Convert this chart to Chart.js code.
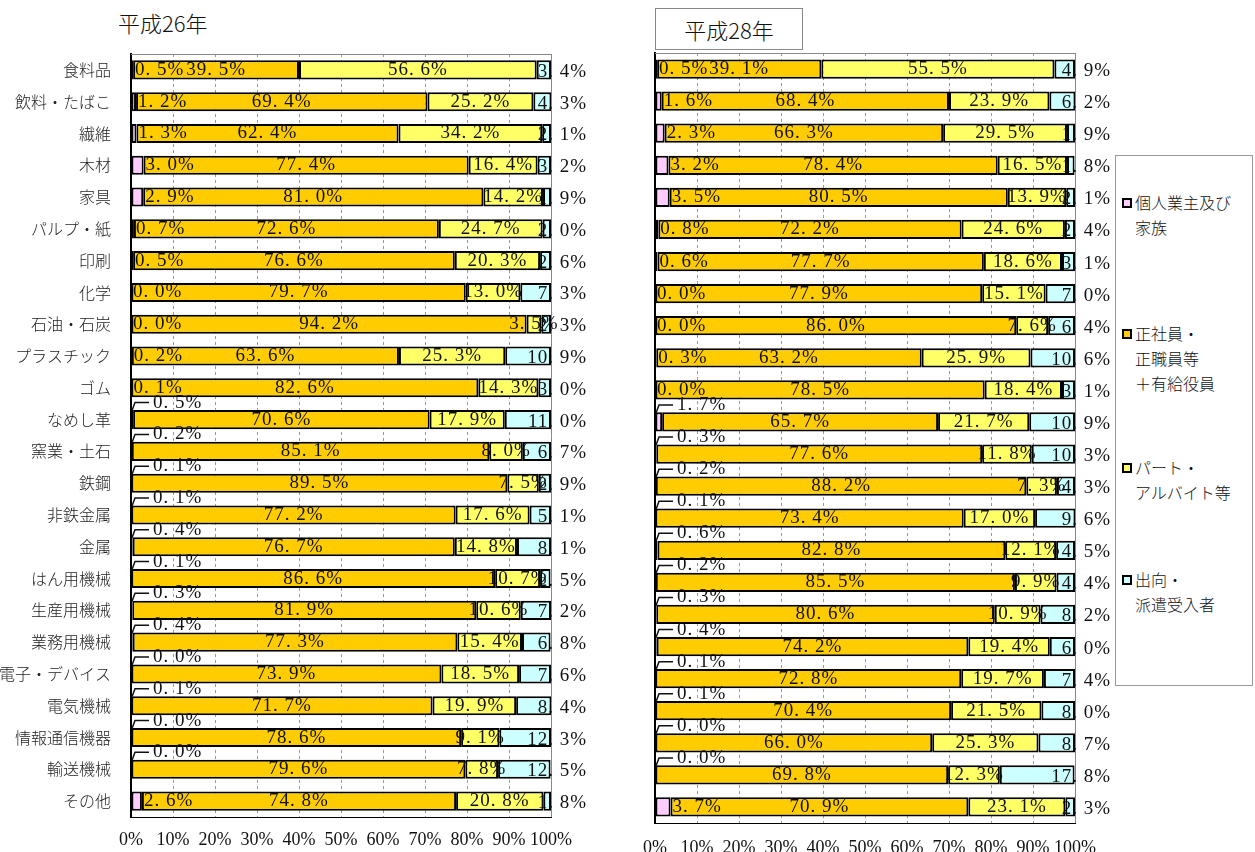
<!DOCTYPE html>
<html>
<head>
<meta charset="utf-8">
<script src="https://cdn.jsdelivr.net/npm/chart.js@4/dist/chart.umd.min.js"></script>
<style>
  body { margin: 0; background: #fff; width: 1255px; height: 852px; overflow: hidden; position: relative; font-family: "Noto Sans CJK JP", sans-serif; }
  #c1 { position: absolute; left: 0; top: 0; }
  #c2 { position: absolute; left: 600px; top: 0; }
  .title { position: absolute; font-size: 22px; font-weight: 300; color: #111; }
  #t2 { left: 655px; top: 8px; width: 146px; height: 40px; border: 1px solid #888; line-height: 40px; text-align: center; }
  #legend { position: absolute; left: 1115px; top: 155px; width: 136px; height: 529px; border: 1px solid #999; background: #fff; }
  .item { position: absolute; left: 6px; font-size: 16px; font-weight: 300; line-height: 25px; color: #111; }
  .item i { position: absolute; left: 0; top: 8px; width: 6px; height: 6px; border: 2px solid #000; }
  .item span { display: block; padding-left: 13px; white-space: pre; }
</style>
</head>
<body>
<div class="title" style="left:118px;top:6px;">平成26年</div>
<div class="title" id="t2">平成28年</div>
<canvas id="c1" width="600" height="852"></canvas>
<canvas id="c2" width="510" height="852"></canvas>
<div id="legend"></div>
<script>
// 業種
const categories = ['食料品', '飲料・たばこ', '繊維', '木材', '家具', 'パルプ・紙', '印刷', '化学', '石油・石炭',
  'プラスチック', 'ゴム', 'なめし革', '窯業・土石', '鉄鋼', '非鉄金属', '金属', 'はん用機械', '生産用機械',
  '業務用機械', '電子・デバイス', '電気機械', '情報通信機器', '輸送機械', 'その他'];

const seriesNames = ['個人業主及び\n家族', '正社員・\n正職員等\n＋有給役員', 'パート・\nアルバイト等', '出向・\n派遣受入者'];
const seriesColors = ['#FFCCFF', '#FFCC00', '#FFFF66', '#CCFFFF'];

// 平成26年
const h26Kojin = [0.5, 1.2, 1.3, 3.0, 2.9, 0.7, 0.5, 0.0, 0.0, 0.2, 0.1, 0.5, 0.2, 0.1, 0.1, 0.4, 0.1, 0.3, 0.4, 0.0, 0.1, 0.0, 0.0, 2.6];
const h26Seisha = [39.5, 69.4, 62.4, 77.4, 81.0, 72.6, 76.6, 79.7, 94.2, 63.6, 82.6, 70.6, 85.1, 89.5, 77.2, 76.7, 86.6, 81.9, 77.3, 73.9, 71.7, 78.6, 79.6, 74.8];
const h26Part = [56.6, 25.2, 34.2, 16.4, 14.2, 24.7, 20.3, 13.0, 3.5, 25.3, 14.3, 17.9, 8.0, 7.5, 17.6, 14.8, 10.7, 10.6, 15.4, 18.5, 19.9, 9.1, 7.8, 20.8];
const h26Haken = [3.4, 4.3, 2.1, 3.2, 1.9, 2.0, 2.6, 7.3, 2.3, 10.9, 3.0, 11.0, 6.7, 2.9, 5.1, 8.1, 2.5, 7.2, 6.8, 7.6, 8.4, 12.3, 12.5, 1.8];

// 平成28年
const h28Kojin = [0.5, 1.6, 2.3, 3.2, 3.5, 0.8, 0.6, 0.0, 0.0, 0.3, 0.0, 1.7, 0.3, 0.2, 0.1, 0.6, 0.2, 0.3, 0.4, 0.1, 0.1, 0.0, 0.0, 3.7];
const h28Seisha = [39.1, 68.4, 66.3, 78.4, 80.5, 72.2, 77.7, 77.9, 86.0, 63.2, 78.5, 65.7, 77.6, 88.2, 73.4, 82.8, 85.5, 80.6, 74.2, 72.8, 70.4, 66.0, 69.8, 70.9];
const h28Part = [55.5, 23.9, 29.5, 16.5, 13.9, 24.6, 18.6, 15.1, 7.6, 25.9, 18.4, 21.7, 11.8, 7.3, 17.0, 12.1, 9.9, 10.9, 19.4, 19.7, 21.5, 25.3, 12.3, 23.1];
const h28Haken = [4.9, 6.2, 1.9, 1.8, 2.1, 2.4, 3.1, 7.0, 6.4, 10.6, 3.1, 10.9, 10.3, 4.3, 9.6, 4.5, 4.4, 8.2, 6.0, 7.4, 8.0, 8.7, 17.8, 2.3];

const xTicks = [0, 10, 20, 30, 40, 50, 60, 70, 80, 90, 100];

function fmt(v) {
    return v.toFixed(1).replace('.', '. ') + '%';
}

// データラベル
const labelPlugin = {
    id: 'labels',
    afterDatasetsDraw(chart) {
        const ctx = chart.ctx;
        const area = chart.chartArea;
        ctx.save();
        ctx.font = '19px "Liberation Serif", serif';
        ctx.letterSpacing = '1px';
        ctx.fillStyle = '#111';
        ctx.strokeStyle = '#111';
        ctx.lineWidth = 1.5;
        ctx.textBaseline = 'middle';
        chart.data.datasets.forEach((ds, di) => {
            const meta = chart.getDatasetMeta(di);
            meta.data.forEach((el, i) => {
                const v = ds.data[i];
                const t = fmt(v);
                let x, y = el.y, align = 'center';
                if (di === 0) {
                    align = 'left';
                    x = el.x + 2;
                    // 下のほうの小さい値は引き出し線付きで上に
                    if (i >= 11 && v < 2) {
                        y = el.y - 17;
                        x = area.left + 22;
                        ctx.beginPath();
                        ctx.moveTo(area.left + 1, el.y - 9);
                        ctx.lineTo(area.left + 4, y);
                        ctx.lineTo(area.left + 18, y);
                        ctx.stroke();
                    }
                } else if (di === 3) {
                    x = area.right + 36;
                    align = 'right';
                    y = el.y + 2;
                } else {
                    x = (el.x + el.base) / 2;
                }
                ctx.textAlign = align;
                ctx.fillText(t, x, y);
            });
        });
        ctx.restore();
    }
};

// 枠線
const framePlugin = {
    id: 'frame',
    beforeDatasetsDraw(chart) {
        const a = chart.chartArea;
        const ctx = chart.ctx;
        ctx.save();
        ctx.strokeStyle = '#888';
        ctx.lineWidth = 1;
        ctx.beginPath();
        ctx.moveTo(a.left, a.top + 0.5);
        ctx.lineTo(a.right + 0.5, a.top + 0.5);
        ctx.lineTo(a.right + 0.5, a.bottom);
        ctx.stroke();
        ctx.restore();
    }
};

function makeDatasets(values) {
    return values.map((data, i) => ({
        label: seriesNames[i].replace(/\n/g, ''),
        data: data,
        backgroundColor: seriesColors[i],
        borderColor: '#000',
        borderWidth: 2,
        borderSkipped: false,
        barPercentage: 0.6,
        categoryPercentage: 1
    }));
}

function makeChart(id, values, showLabels, pad, yWidth, xHeight, tickPad) {
    return new Chart(document.getElementById(id), {
        type: 'bar',
        data: { labels: categories, datasets: makeDatasets(values) },
        options: {
            indexAxis: 'y',
            responsive: false,
            animation: false,
            layout: { padding: pad },
            plugins: { legend: { display: false }, tooltip: { enabled: false } },
            scales: {
                x: {
                    stacked: true,
                    min: 0,
                    max: 100,
                    afterBuildTicks: s => { s.ticks = xTicks.map(v => ({ value: v })); },
                    afterFit: s => { s.height = xHeight; },
                    ticks: {
                        callback: v => v + '%',
                        font: { family: '"Liberation Serif", serif', size: 18 },
                        color: '#111',
                        padding: tickPad,
                        maxRotation: 0,
                        autoSkip: false
                    },
                    grid: { color: '#999', lineWidth: 1, drawTicks: false },
                    border: { color: '#000', width: 1, dash: [3, 3] }
                },
                y: {
                    stacked: true,
                    afterFit: s => { s.width = yWidth; },
                    ticks: {
                        display: showLabels,
                        font: { family: '"Noto Sans CJK JP", sans-serif', size: 16, weight: 300 },
                        color: '#222',
                        padding: 12
                    },
                    grid: { display: false },
                    border: { color: '#000', width: 2 }
                }
            }
        },
        plugins: [framePlugin, labelPlugin]
    });
}

makeChart('c1', [h26Kojin, h26Seisha, h26Part, h26Haken], true,
    { top: 54, right: 49, left: 0, bottom: 0 }, 131, 35, 12);
makeChart('c2', [h28Kojin, h28Seisha, h28Part, h28Haken], false,
    { top: 53, right: 33, left: 0, bottom: 0 }, 55, 29, 14);

// 凡例
const legend = document.getElementById('legend');
const legendTops = [34, 165, 299, 411];
seriesNames.forEach((name, i) => {
    const d = document.createElement('div');
    d.className = 'item';
    d.style.top = legendTops[i] + 'px';
    d.innerHTML = '<i style="background:' + seriesColors[i] + '"></i><span>' + name + '</span>';
    legend.appendChild(d);
});
</script>
</body>
</html>
